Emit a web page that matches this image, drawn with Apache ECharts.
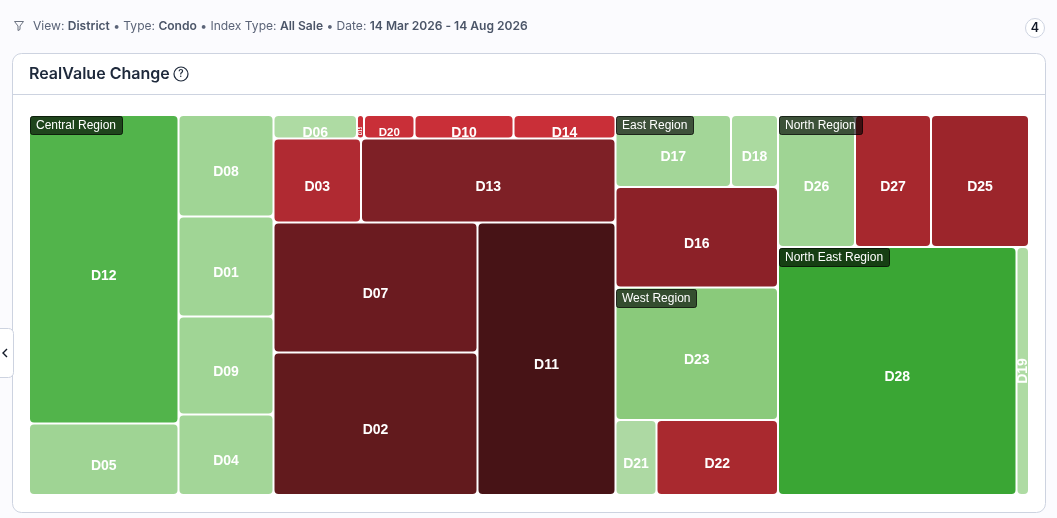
<!DOCTYPE html>
<html><head><meta charset="utf-8">
<style>html,body{margin:0;padding:0;background:#fbfbfe;overflow:hidden}#c{position:absolute;left:0;top:0;width:1057px;height:518px}</style>
<script src="https://cdn.jsdelivr.net/npm/echarts@6/dist/echarts.min.js"></script>
</head><body><div id="c"></div>
<script>
// Chart data
const districtNames = ['D12','D05','D08','D01','D09','D04','D06','D15','D20','D10','D14','D03','D13','D07','D02','D11',
  'D17','D18','D16','D23','D21','D22','D26','D27','D25','D28','D19'];
const districtValues = [46121,10689,9642,9500,9310,7648,1962,165,1187,2327,2397,7350,21378,26520,29070,37605,
  8316,3384,16331,21531,3075,9112,10164,10032,12936,59148,3100];
const districtColors = ['#52b44b','#9fd494','#a0d595','#a0d595','#a0d595','#a3d698','#aedba3','#c92f38','#c92f38','#c92f38','#c92f38','#b02a32','#7e2026','#6b1b20','#621a1d','#471316',
  '#a3d698','#abdaa0','#8c2128','#8aca7b','#add9a3','#a9292f','#9fd494','#a7282e','#9c252b','#3aa634','#aedba3'];
const regionNames = ['Central Region','East Region','West Region','North Region','North East Region'];

const labelOverrides = {
  D15:{fontSize:4.5,rotate:90,offset:[-4,0]},
  D20:{fontSize:11.5},
  D19:{rotate:90,offset:[0,0]}
};
function leaf(name){
  const i = districtNames.indexOf(name);
  const node = {name, value:districtValues[i],
    itemStyle:{color:districtColors[i],borderColor:'#fff',borderWidth:1,borderRadius:4}};
  if(labelOverrides[name]) node.label = labelOverrides[name];
  return node;
}
function group(name, children){
  return {name, children:children.map(c=>typeof c==='string'?leaf(c):c),
    itemStyle:{borderWidth:0,gapWidth:0}};
}
const tree = [
  group('Central Region',[
    group('',['D12','D05']),
    group('',['D08','D01','D09','D04']),
    group('',[
      group('',['D06','D15','D20','D10','D14']),
      group('',['D03','D13']),
      group('',[group('',['D07','D02']),'D11'])
    ])
  ]),
  group('',[
    group('East Region',[group('',['D17','D18']),'D16']),
    group('West Region',['D23',group('',['D21','D22'])])
  ]),
  group('',[
    group('North Region',['D26','D27','D25']),
    group('North East Region',['D28','D19'])
  ])
];

const C = {border:'#cdd3e0'};
function regionTag(name,x,y,w){
  return {type:'group',x,y,z:20,children:[
    {type:'rect',shape:{x:0.5,y:0.5,width:w,height:18,r:2},z:20,
      style:{fill:'rgba(0,0,0,0.62)',stroke:'rgba(0,0,0,0.75)',lineWidth:1}},
    {type:'text',x:6,y:4,z:21,style:{text:name,fill:'#fff',font:'12px "Liberation Sans"'}}
  ]};
}
const tagPos = [[30,116,92],[616,116,77],[616,289,80],[779,116,83],[779,248,110]];
const chrome = [
  {type:'rect',z:0,shape:{x:12.5,y:53.5,width:1033,height:459,r:9},style:{fill:'#fff',stroke:C.border,lineWidth:1}},
  {type:'line',z:0,shape:{x1:13,y1:94.5,x2:1045,y2:94.5},style:{stroke:C.border,lineWidth:1}},
  {type:'polyline',z:1,shape:{points:[[14.5,21.5],[23.5,21.5],[20,26],[20,29.5],[18,30.5],[18,26],[14.5,21.5]]},style:{fill:'none',stroke:'#6b7280',lineWidth:1}},
  {type:'text',z:1,x:33,y:20,style:{
    text:'{n|View: }{b|District}{n| • Type: }{b|Condo}{n| • Index Type: }{b|All Sale}{n| • Date: }{b|14 Mar 2026 - 14 Aug 2026}',
    rich:{n:{font:'12.05px Inter',fill:'#5b6478'},b:{font:'600 12.05px Inter',fill:'#4b5568'}}}},
  {type:'text',z:1,x:29,y:66,style:{text:'RealValue Change',font:'600 16px Inter',fill:'#1e293b'}},
  {type:'circle',z:1,shape:{cx:181,cy:74,r:7},style:{fill:'none',stroke:'#1e293b',lineWidth:1.2}},
  {type:'text',z:1,x:181,y:74,style:{text:'?',font:'600 10px Inter',fill:'#1e293b',align:'center',verticalAlign:'middle'}},
  {type:'circle',z:1,shape:{cx:1035,cy:28,r:9.5},style:{fill:'#fff',stroke:C.border,lineWidth:1}},
  {type:'text',z:1,x:1035,y:28,style:{text:'4',font:'600 12.5px Inter',fill:'#111827',align:'center',verticalAlign:'middle'}},
  {type:'rect',z:1,shape:{x:-6,y:328.5,width:19.5,height:49,r:5},style:{fill:'#fff',stroke:C.border,lineWidth:1}},
  {type:'polyline',z:2,shape:{points:[[7,349],[3,353],[7,357]]},style:{fill:'none',stroke:'#111827',lineWidth:1.4}},
  ...regionNames.map((n,i)=>regionTag(n,...tagPos[i]))
];

const chart = echarts.init(document.getElementById('c'));
chart.setOption({
  animation:false,
  backgroundColor:'transparent',
  tooltip:{show:false},
  graphic:{elements:chrome},
  series:[{
    type:'treemap',
    left:29,top:115,width:1000,height:380,
    sort:false,
    squareRatio:0.00001,
    roam:false,nodeClick:false,
    breadcrumb:{show:false},
    visibleMin:0,childrenVisibleMin:0,
    itemStyle:{borderWidth:0,gapWidth:0,borderColor:'#fff'},
    label:{show:true,position:'inside',color:'#fff',fontFamily:'Liberation Sans',fontWeight:'bold',fontSize:14,
      overflow:'none',padding:0,offset:[0,6.5]},
    upperLabel:{show:false},
    data:tree
  }]
});
</script></body></html>
